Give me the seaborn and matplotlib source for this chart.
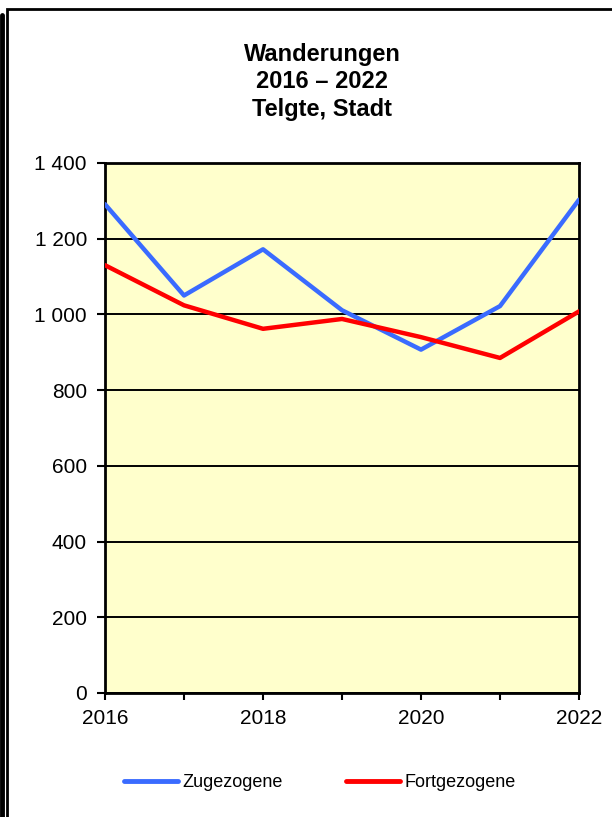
import seaborn as sns
import pandas as pd
import matplotlib.pyplot as plt
from matplotlib.patches import Rectangle
from matplotlib.lines import Line2D

# Daten: Wanderungen Telgte, Stadt
jahre = [2016, 2017, 2018, 2019, 2020, 2021, 2022]
zugezogene = [1291, 1050, 1172, 1011, 907, 1022, 1303]
fortgezogene = [1130, 1024, 962, 988, 940, 885, 1008]
y_ticks = [0, 200, 400, 600, 800, 1000, 1200, 1400]
y_labels = ['0', '200', '400', '600', '800', '1 000', '1 200', '1 400']
x_labels = [2016, 2018, 2020, 2022]

df = pd.DataFrame({
    'Jahr': jahre * 2,
    'Anzahl': zugezogene + fortgezogene,
    'Art': ['Zugezogene'] * len(jahre) + ['Fortgezogene'] * len(jahre),
})

sns.set_style('white')
plt.rcParams['font.family'] = ['Liberation Sans', 'DejaVu Sans']
plt.rcParams['text.color'] = 'black'
plt.rcParams['xtick.color'] = 'black'
plt.rcParams['ytick.color'] = 'black'

fig = plt.figure(figsize=(6.12, 8.17), dpi=100)
ax = fig.add_axes([0.1716, 0.1518, 0.7745, 0.6487])
ax.set_facecolor('#FFFFCC')

sns.lineplot(data=df, x='Jahr', y='Anzahl', hue='Art',
             palette={'Zugezogene': '#3A6BFF', 'Fortgezogene': '#FF0000'},
             linewidth=3.2, ax=ax, legend=False, zorder=3)

ax.set_xlim(2016, 2022)
ax.set_ylim(0, 1400)
ax.set_yticks(y_ticks)
ax.set_yticklabels(y_labels)
ax.set_xticks(jahre)
ax.set_xticklabels([str(j) if j in x_labels else '' for j in jahre])
ax.tick_params(axis='both', labelsize=15, width=1.5, direction='out',
               bottom=True, left=True)
ax.tick_params(axis='x', length=5, pad=6.5)
ax.tick_params(axis='y', length=6, pad=7)
ax.set_xlabel('')
ax.set_ylabel('')
ax.grid(axis='y', color='black', linewidth=1.4)
ax.set_axisbelow(True)
for s in ax.spines.values():
    s.set_color('black')
    s.set_linewidth(2)

fig.text(0.526, 0.9, 'Wanderungen\n2016 – 2022\nTelgte, Stadt', ha='center', va='center',
         fontsize=17, fontweight='bold', linespacing=1.24)

# Legende
handles = [Line2D([], [], color='#3A6BFF', linewidth=3.5, solid_capstyle='round'),
           Line2D([], [], color='#FF0000', linewidth=3.5, solid_capstyle='round')]
fig.legend(handles, ['Zugezogene', 'Fortgezogene'], loc='center', bbox_to_anchor=(0.523, 0.042),
           ncol=2, frameon=False, fontsize=13, handlelength=3.0, handletextpad=0.25,
           columnspacing=3.5)

# Rahmen
fig.add_artist(Rectangle((0.0115, -0.05), 1.1, 1.039, transform=fig.transFigure,
                         fill=False, edgecolor='black', linewidth=2))
fig.add_artist(Line2D([0.003, 0.003], [0, 0.982], transform=fig.transFigure,
                      color='black', linewidth=3.5))

fig.savefig('out.png', dpi=100)
